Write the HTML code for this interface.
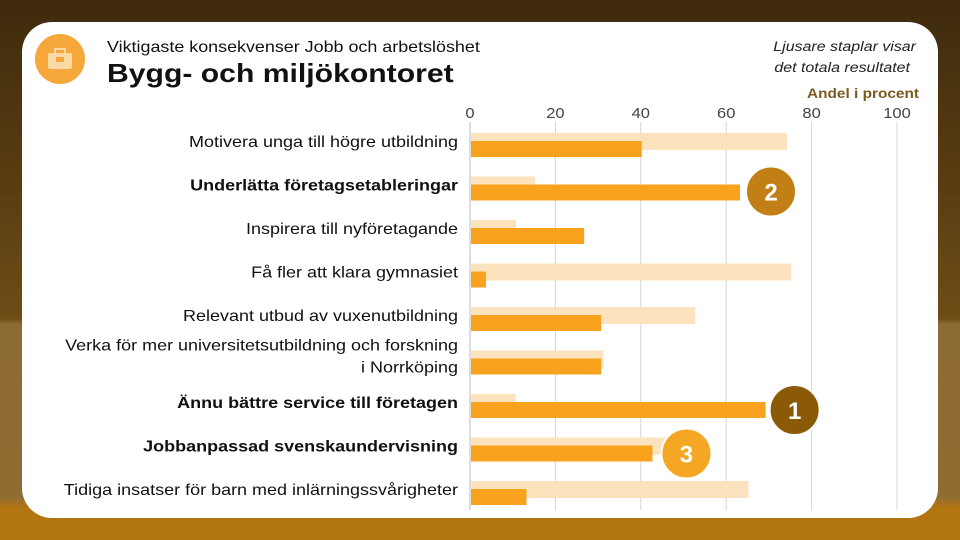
<!DOCTYPE html>
<html><head><meta charset="utf-8"><style>
html,body{margin:0;padding:0}
body{width:960px;height:540px;overflow:hidden;position:relative;font-family:"Liberation Sans",sans-serif;
background:linear-gradient(180deg,#3e2a0c 0%,#5e4113 40%,#6e4d16 59%,#8c6a33 60%,#8f6c32 92%,#b27510 94%,#b27510 100%);}
#card{position:absolute;left:22px;top:22px;width:916px;height:496px;background:#fff;border-radius:30px;}
svg{position:absolute;left:0;top:0}
</style></head><body>
<div id="card"></div>
<svg id="chart" width="960" height="540">
<circle cx="60" cy="59" r="25" fill="#f5a73a"/>
<g fill="#fbd9a4">
<rect x="48" y="53" width="24" height="16" rx="2"/>
<rect x="55" y="49" width="10" height="5" fill="none" stroke="#fbd9a4" stroke-width="2"/>
<rect x="56" y="57" width="8" height="5" fill="#f5a73a"/>
</g>
<text transform="translate(107,52) scale(1.12,1)" font-size="16" fill="#111">Viktigaste konsekvenser Jobb och arbetslöshet</text>
<text transform="translate(107,82) scale(1.16,1)" font-size="26" font-weight="bold" fill="#111">Bygg- och miljökontoret</text>
<text transform="translate(916,51) scale(1.14,1)" font-size="14" font-style="italic" fill="#222" text-anchor="end">Ljusare staplar visar</text>
<text transform="translate(910,72) scale(1.14,1)" font-size="14" font-style="italic" fill="#222" text-anchor="end">det totala resultatet</text>
<text transform="translate(919,98) scale(1.1,1)" font-size="14" font-weight="bold" fill="#7a5a1e" text-anchor="end">Andel i procent</text>
<g id="grid"></g><g id="bars"></g><g id="labels"></g><g id="badges"></g>
</svg>
<script>
const categories=["Motivera unga till högre utbildning","Underlätta företagsetableringar","Inspirera till nyföretagande","Få fler att klara gymnasiet","Relevant utbud av vuxenutbildning","Verka för mer universitetsutbildning och forskning|i Norrköping","Ännu bättre service till företagen","Jobbanpassad svenskaundervisning","Tidiga insatser för barn med inlärningssvårigheter"];
const boldCats=[false,true,false,false,false,false,true,true,false];
const totalValues=[74,15,10.5,75,52.5,31,10.5,46,65];
const unitValues=[40,63,26.5,3.5,30.5,30.5,69,42.5,13];
const ticks=[0,20,40,60,80,100];
const badgeRanks=[null,"2",null,null,null,null,"1","3",null];
const NS="http://www.w3.org/2000/svg";
const x0=470,scale=4.27,y0=141,step=43.5;
const xs=v=>x0+v*scale, ys=i=>y0+i*step;
const badgeStyle={"1":{c:"#8a5a06",dx:30,dy:8},"2":{c:"#c17f16",dx:32,dy:7},"3":{c:"#f5a623",dx:35,dy:8}};
function mk(t,a,p){const e=document.createElementNS(NS,t);for(const k in a)e.setAttribute(k,a[k]);p.appendChild(e);return e;}
const grid=document.getElementById('grid'),bars=document.getElementById('bars'),labels=document.getElementById('labels'),badges=document.getElementById('badges');
ticks.forEach(t=>{
 const l=mk('line',{x1:xs(t),x2:xs(t),y1:122,y2:510,stroke:t===0?'#bbb':'#d4d4d8','stroke-width':1},grid);
 
 
 const tx=mk('text',{transform:'translate('+xs(t)+',118) scale(1.1,1)','font-size':15,fill:'#444','text-anchor':'middle'},grid);
 tx.textContent=t;
 
 
});
categories.forEach((c,i)=>{
 const y=ys(i);
 const lb=mk('rect',{x:xs(0)+1,y:y-8,width:totalValues[i]*scale,height:17,fill:'#fde3bd'},bars);
 
 
 const db=mk('rect',{x:xs(0)+1,y:y,width:unitValues[i]*scale,height:16,fill:'#f9a21e'},bars);
 
 
 const parts=c.split('|');
 parts.forEach((p,j)=>{
  const ty=parts.length>1?y+3+(j-0.5)*22:y+6;
  const t=mk('text',{transform:'translate(458,'+ty+') scale(1.125,1)','font-size':16,fill:'#111','text-anchor':'end','font-weight':boldCats[i]?'bold':'normal'},labels);
  t.textContent=p;
  
  
 });
 if(badgeRanks[i]){
  const s=badgeStyle[badgeRanks[i]];
  const cx=xs(unitValues[i])+s.dx, cy=y+s.dy;
  const ci=mk('circle',{cx:cx,cy:cy,r:25,fill:s.c,stroke:'#fff','stroke-width':2},badges);
  
  
  const bt=mk('text',{x:cx,y:cy+9,'font-size':24,'font-weight':'bold',fill:'#fff','text-anchor':'middle'},badges);
  bt.textContent=badgeRanks[i];
  
  
 }
});
</script>
</body></html>
